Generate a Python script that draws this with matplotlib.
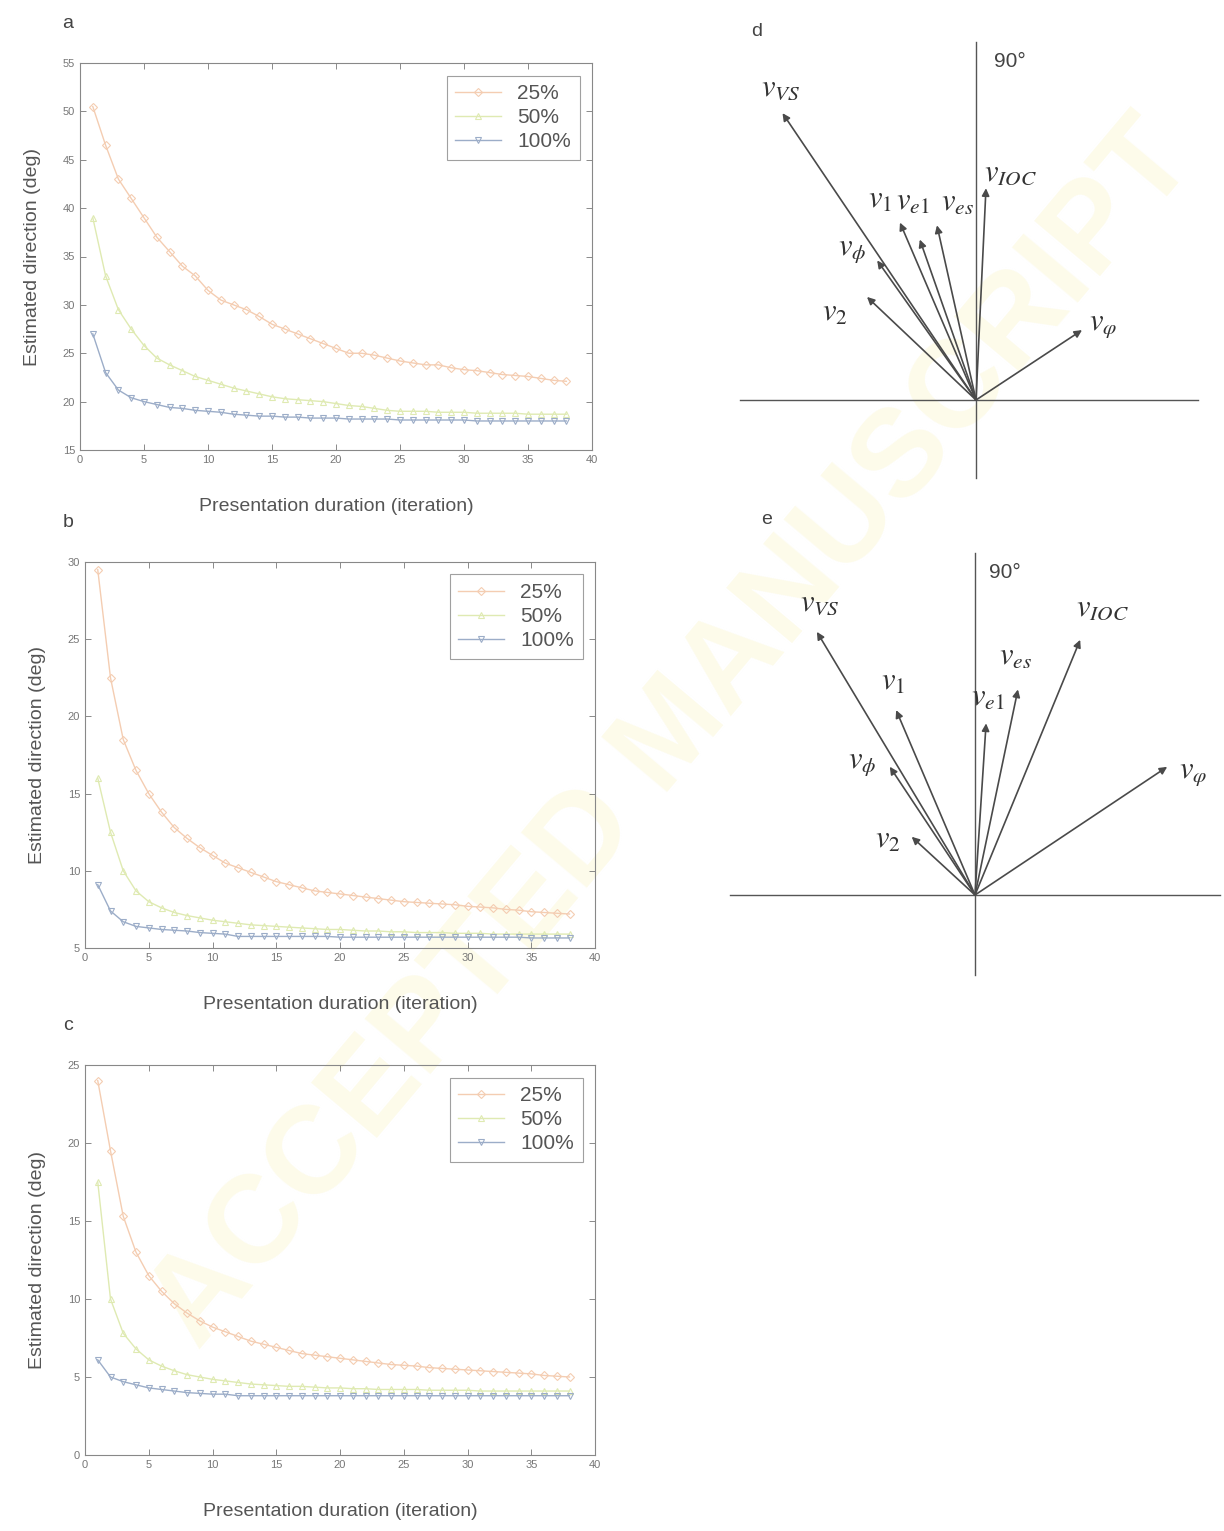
import numpy as np
import matplotlib
matplotlib.use('Agg')
import matplotlib.pyplot as plt

plt.rcParams['font.family'] = ['Liberation Sans', 'DejaVu Sans']
plt.rcParams['mathtext.fontset'] = 'stix'

# ------------------------------------------------------------
# data: estimated direction vs presentation duration
# ------------------------------------------------------------
iters = np.arange(1, 39)
series_labels = ['25%', '50%', '100%']

a_25 = [50.5, 46.5, 43.0, 41.0, 39.0, 37.0, 35.5, 34.0, 33.0, 31.5, 30.5, 30.0, 29.5,
        28.8, 28.0, 27.5, 27.0, 26.5, 26.0, 25.5, 25.0, 25.0, 24.8, 24.5, 24.2, 24.0,
        23.8, 23.8, 23.5, 23.3, 23.2, 23.0, 22.8, 22.7, 22.6, 22.4, 22.2, 22.1]
a_50 = [39.0, 33.0, 29.5, 27.5, 25.8, 24.5, 23.8, 23.2, 22.6, 22.2, 21.8, 21.4, 21.1,
        20.8, 20.5, 20.3, 20.2, 20.1, 20.0, 19.8, 19.6, 19.5, 19.3, 19.1, 19.0, 19.0,
        19.0, 18.9, 18.9, 18.9, 18.8, 18.8, 18.8, 18.8, 18.7, 18.7, 18.7, 18.7]
a_100 = [27.0, 23.0, 21.2, 20.4, 20.0, 19.7, 19.4, 19.3, 19.1, 19.0, 18.9, 18.7, 18.6,
         18.5, 18.5, 18.4, 18.4, 18.3, 18.3, 18.3, 18.2, 18.2, 18.2, 18.2, 18.1, 18.1,
         18.1, 18.1, 18.1, 18.1, 18.0, 18.0, 18.0, 18.0, 18.0, 18.0, 18.0, 18.0]

b_25 = [29.5, 22.5, 18.5, 16.5, 15.0, 13.8, 12.8, 12.1, 11.5, 11.0, 10.5, 10.2, 9.9,
        9.6, 9.3, 9.1, 8.9, 8.7, 8.6, 8.5, 8.4, 8.3, 8.2, 8.1, 8.0, 7.95,
        7.9, 7.85, 7.8, 7.7, 7.65, 7.6, 7.5, 7.45, 7.35, 7.3, 7.25, 7.2]
b_50 = [16.0, 12.5, 10.0, 8.7, 8.0, 7.6, 7.3, 7.1, 6.95, 6.8, 6.7, 6.6, 6.5,
        6.45, 6.4, 6.35, 6.3, 6.25, 6.2, 6.2, 6.15, 6.1, 6.1, 6.05, 6.05, 6.0,
        6.0, 6.0, 5.95, 5.95, 5.95, 5.9, 5.9, 5.9, 5.9, 5.9, 5.9, 5.9]
b_100 = [9.1, 7.4, 6.7, 6.4, 6.3, 6.2, 6.15, 6.1, 6.0, 5.95, 5.9, 5.75, 5.75,
         5.75, 5.75, 5.75, 5.75, 5.75, 5.75, 5.7, 5.7, 5.7, 5.7, 5.7, 5.7, 5.7,
         5.7, 5.7, 5.7, 5.7, 5.7, 5.7, 5.7, 5.7, 5.65, 5.65, 5.65, 5.65]

c_25 = [24.0, 19.5, 15.3, 13.0, 11.5, 10.5, 9.7, 9.1, 8.6, 8.2, 7.9, 7.6, 7.3,
        7.1, 6.9, 6.7, 6.5, 6.4, 6.3, 6.2, 6.1, 6.0, 5.9, 5.8, 5.75, 5.7,
        5.6, 5.55, 5.5, 5.45, 5.4, 5.35, 5.3, 5.25, 5.2, 5.1, 5.05, 5.0]
c_50 = [17.5, 10.0, 7.8, 6.8, 6.1, 5.7, 5.4, 5.15, 5.0, 4.85, 4.75, 4.65, 4.55,
        4.5, 4.45, 4.4, 4.4, 4.35, 4.3, 4.3, 4.25, 4.25, 4.2, 4.2, 4.2, 4.2,
        4.15, 4.15, 4.15, 4.15, 4.1, 4.1, 4.1, 4.1, 4.1, 4.1, 4.1, 4.1]
c_100 = [6.1, 5.0, 4.7, 4.5, 4.3, 4.2, 4.1, 4.0, 3.95, 3.9, 3.9, 3.8, 3.8,
         3.8, 3.8, 3.8, 3.8, 3.8, 3.8, 3.8, 3.8, 3.8, 3.8, 3.8, 3.8, 3.8,
         3.8, 3.8, 3.8, 3.8, 3.8, 3.8, 3.8, 3.8, 3.8, 3.8, 3.8, 3.8]

# ------------------------------------------------------------
# data: vector diagrams (angle in deg, length)
# ------------------------------------------------------------
vec_names = [r'$v_{VS}$', r'$v_\phi$', r'$v_2$', r'$v_1$', r'$v_{e1}$',
             r'$v_{es}$', r'$v_{IOC}$', r'$v_\varphi$']
d_angles = [124.0, 125.3, 136.6, 113.2, 109.3, 102.6, 87.3, 33.4]
d_lengths = [346, 171, 150, 193, 170, 179, 212, 127]
e_angles = [121.0, 123.6, 137.4, 113.1, 86.3, 78.2, 67.6, 33.7]
e_lengths = [307, 154, 86, 201, 172, 210, 276, 231]

# label offsets from arrow tips (pixels)
d_offsets = [(-2, 25), (-25, 10), (-32, -16), (-20, 23), (-7, 38), (20, 23), (24, 15), (21, 5)]
e_offsets = [(3, 29), (-28, 4), (-24, -3), (-3, 28), (2, 26), (-3, 33), (22, 32), (26, -6)]

colors = ['#f4cdb2', '#dfeab2', '#9cadc8']
markers = ['D', '^', 'v']

W, H = 1224, 1531
fig = plt.figure(figsize=(W / 100, H / 100), dpi=100)

# very faint watermark behind everything
fig.text(0.55, 0.52, 'ACCEPTED MANUSCRIPT', fontsize=90, color='#fdfbea',
         rotation=50, ha='center', va='center', zorder=-5, fontweight='bold')


def px_rect(left, top, right, bottom):
    return [left / W, 1 - bottom / H, (right - left) / W, (bottom - top) / H]


def line_panel(box, data, ylim, yticks, letter):
    left, top, right, bottom = box
    ax = fig.add_axes(px_rect(left, top, right, bottom))
    ax.patch.set_alpha(0)
    for vals, lab, col, mk in zip(data, series_labels, colors, markers):
        ax.plot(iters, vals, color=col, lw=1.0, marker=mk, markersize=4.5,
                markerfacecolor='none', markeredgecolor=col, markeredgewidth=0.8, label=lab)
    ax.set_xlim(0, 40)
    ax.set_ylim(*ylim)
    ax.set_xticks(np.arange(0, 41, 5))
    ax.set_yticks(yticks)
    ax.tick_params(direction='in', top=True, right=True, labelsize=8,
                   colors='#777777', length=4, width=0.6)
    for s in ax.spines.values():
        s.set_color('#888888')
        s.set_linewidth(0.8)
    ax.set_ylabel('Estimated direction (deg)', fontsize=14, color='#555555', labelpad=16)
    ax.set_xlabel('Presentation duration (iteration)', fontsize=14, color='#555555', labelpad=24)
    leg = ax.legend(loc='upper right', fontsize=15, frameon=True, fancybox=False,
                    handlelength=2.2, borderaxespad=0.6, labelspacing=0.25)
    leg.get_frame().set_edgecolor('#888888')
    leg.get_frame().set_linewidth(0.8)
    for t in leg.get_texts():
        t.set_color('#555555')
    # panel letter sits at a fixed page position left of the axes
    fig.text(68 / W, 1 - (top - 40) / H, letter, fontsize=14,
             color='#444444', ha='center', va='center')
    return ax


line_panel((80, 63, 592, 450), [a_25, a_50, a_100], (15, 55),
           np.arange(15, 56, 5), 'a')
line_panel((85, 562, 595, 948), [b_25, b_50, b_100], (5, 30),
           np.arange(5, 31, 5), 'b')
line_panel((85, 1065, 595, 1455), [c_25, c_50, c_100], (0, 25),
           np.arange(0, 26, 5), 'c')


def vector_panel(left, top, right, bottom, ox, oy, hline, vline, angles, lengths,
                 offsets, letter, letter_xy, deg_xy):
    ax = fig.add_axes(px_rect(left, top, right, bottom))
    ax.set_xlim(left - ox, right - ox)
    ax.set_ylim(oy - bottom, oy - top)
    ax.axis('off')
    ax.patch.set_alpha(0)
    ax.plot(hline, [0, 0], color='#555555', lw=1.0)
    ax.plot([0, 0], vline, color='#555555', lw=1.0)
    for name, ang, ln, off in zip(vec_names, angles, lengths, offsets):
        tx = ln * np.cos(np.radians(ang))
        ty = ln * np.sin(np.radians(ang))
        ax.annotate('', xy=(tx, ty), xytext=(0, 0),
                    arrowprops=dict(arrowstyle='-|>', color='#4a4a4a', lw=1.2,
                                    mutation_scale=11, shrinkA=0, shrinkB=0))
        ax.annotate(name, xy=(tx, ty), xytext=off, textcoords='offset pixels',
                    fontsize=22, color='#333333', ha='center', va='center')
    ax.text(letter_xy[0] - ox, oy - letter_xy[1], letter, fontsize=14,
            color='#444444', ha='center', va='center')
    ax.text(deg_xy[0] - ox, oy - deg_xy[1], '90°', fontsize=15,
            color='#444444', ha='center', va='center')


vector_panel(720, 20, 1224, 490, 976, 400, [-236, 222], [-78, 358],
             d_angles, d_lengths, d_offsets, 'd', (757, 32), (1010, 62))
vector_panel(720, 500, 1224, 990, 975, 895, [-245, 245], [-80, 342],
             e_angles, e_lengths, e_offsets, 'e', (767, 520), (1005, 572))

fig.savefig('out.png', dpi=100)
